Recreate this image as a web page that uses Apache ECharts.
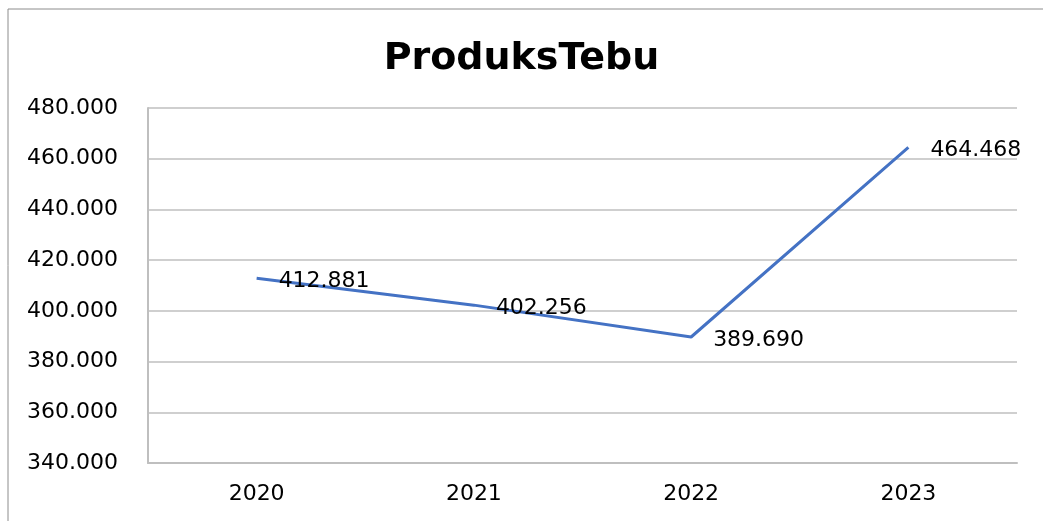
<!DOCTYPE html>
<html>
<head>
<meta charset="utf-8">
<script src="https://cdn.jsdelivr.net/npm/echarts@6/dist/echarts.min.js"></script>
<style>
html,body{margin:0;padding:0;background:#fff;}
#c{width:1043px;height:521px;}
</style>
</head>
<body>
<div id="c"></div>
<script>
const titleText = 'ProduksTebu';
const categories = ['2020', '2021', '2022', '2023'];
const values = [412881, 402256, 389690, 464468];
const yMin = 340000, yMax = 480000, yStep = 20000;

function fmt(v){
  return String(Math.round(v)).replace(/\B(?=(\d{3})+(?!\d))/g, '.');
}
const FONT = 'DejaVu Sans';
const chart = echarts.init(document.getElementById('c'));
chart.setOption({
  animation: false,
  backgroundColor: '#fff',
  graphic: [{
    type: 'rect', shape: {x: 8, y: 9, width: 1200, height: 700},
    style: {fill: 'none', stroke: '#8c8c8c', lineWidth: 1}, silent: true, z: -1
  }],
  title: {
    text: titleText, left: 'center', top: 35,
    textStyle: {fontFamily: FONT, fontSize: 38, fontWeight: 'bold', color: '#000'}
  },
  grid: {left: 148, right: 26, top: 108, bottom: 58},
  xAxis: {
    type: 'category', data: categories, boundaryGap: true,
    axisLine: {show: true, lineStyle: {color: '#bfbfbf', width: 2}},
    axisTick: {show: false},
    axisLabel: {color: '#000', fontFamily: FONT, fontSize: 22, margin: 20}
  },
  yAxis: {
    type: 'value', min: yMin, max: yMax, interval: yStep,
    axisLine: {show: true, lineStyle: {color: '#bfbfbf', width: 2}},
    axisTick: {show: false},
    splitLine: {lineStyle: {color: '#bfbfbf', width: 1.5}},
    axisLabel: {color: '#000', fontFamily: FONT, fontSize: 22, margin: 30, formatter: fmt}
  },
  series: [{
    type: 'line', data: values, showSymbol: true, symbol: 'circle', symbolSize: 0,
    lineStyle: {color: '#4472C4', width: 3},
    itemStyle: {color: '#4472C4'},
    label: {
      show: true, position: 'right', distance: 22, offset: [0, 3],
      color: '#000', fontFamily: FONT, fontSize: 22,
      formatter: p => fmt(p.value)
    }
  }]
});
</script>
</body>
</html>
